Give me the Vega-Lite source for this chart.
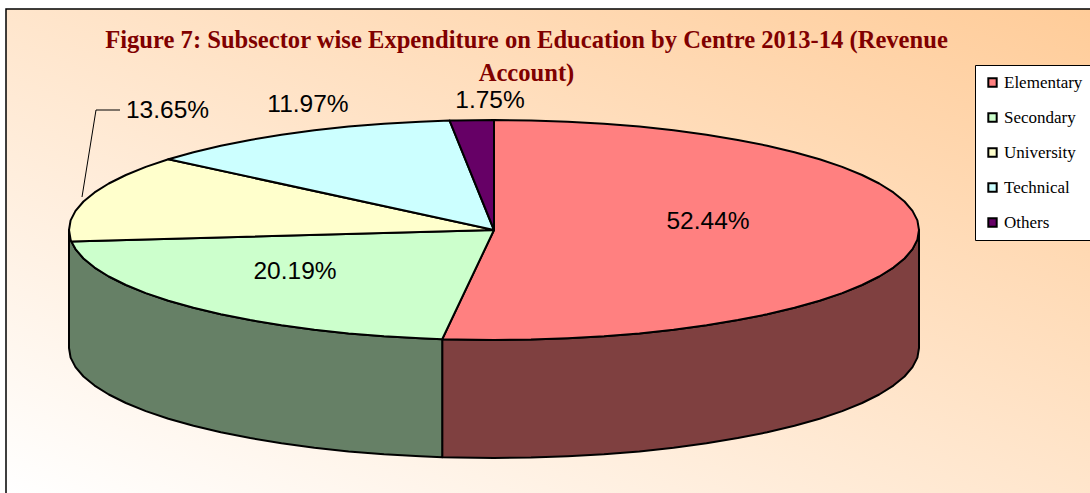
{"$schema":"https://vega.github.io/schema/vega-lite/v6.json","width":1085,"height":485,"autosize":"none","padding":{"left":6,"top":9,"right":0,"bottom":0},"background":"white","view":{"stroke":"#000000","strokeWidth":1.5,"fill":{"gradient":"linear","x1":0,"y1":1,"x2":1,"y2":0,"stops":[{"offset":0,"color":"#FFFFFF"},{"offset":1,"color":"#FFCC99"}]}},"title":{"text":["Figure 7: Subsector wise Expenditure on Education by Centre 2013-14 (Revenue","Account)"],"font":"Liberation Serif","fontSize":24.6,"fontWeight":"bold","color":"#800000","anchor":"middle","frame":"group","dx":-22,"baseline":"top","offset":-78,"lineHeight":33},"projection":{"type":"identity","reflectY":true,"scale":1,"translate":[488,221]},"datasets":{"shapes":[
{"type":"Feature","properties":{"part":"wall","subsector":"Elementary"},"geometry":{"type":"Polygon","coordinates":[[[425,0],[423.4,-9.6],[418.5,-19.1],[410.5,-28.5],[399.4,-37.6],[385.2,-46.5],[368.1,-55],[348.2,-63.1],[325.6,-70.7],[300.5,-77.8],[273.2,-84.3],[243.8,-90.1],[212.5,-95.3],[179.6,-99.7],[145.4,-103.4],[110,-106.3],[73.8,-108.3],[37,-109.6],[0,-110],[-37,-109.6],[-51.8,-109.2],[-51.8,-227.2],[-37,-227.6],[0,-228],[37,-227.6],[73.8,-226.3],[110,-224.3],[145.4,-221.4],[179.6,-217.7],[212.5,-213.3],[243.8,-208.1],[273.2,-202.3],[300.5,-195.8],[325.6,-188.7],[348.2,-181.1],[368.1,-173],[385.2,-164.5],[399.4,-155.6],[410.5,-146.5],[418.5,-137.1],[423.4,-127.6],[425,-118],[425,0]]]}},
{"type":"Feature","properties":{"part":"wall","subsector":"Secondary"},"geometry":{"type":"Polygon","coordinates":[[[-51.8,-109.2],[-73.8,-108.3],[-110,-106.3],[-145.4,-103.4],[-179.6,-99.7],[-212.5,-95.3],[-243.8,-90.1],[-273.2,-84.3],[-300.5,-77.8],[-325.6,-70.7],[-348.2,-63.1],[-368.1,-55],[-385.2,-46.5],[-399.4,-37.6],[-410.5,-28.5],[-418.5,-19.1],[-423.4,-9.6],[-425,0],[-425,-118],[-423.4,-127.6],[-418.5,-137.1],[-410.5,-146.5],[-399.4,-155.6],[-385.2,-164.5],[-368.1,-173],[-348.2,-181.1],[-325.6,-188.7],[-300.5,-195.8],[-273.2,-202.3],[-243.8,-208.1],[-212.5,-213.3],[-179.6,-217.7],[-145.4,-221.4],[-110,-224.3],[-73.8,-226.3],[-51.8,-227.2],[-51.8,-109.2]]]}},
{"type":"Feature","properties":{"part":"top","subsector":"Elementary"},"geometry":{"type":"Polygon","coordinates":[[[0,0],[0,110],[37,109.6],[73.8,108.3],[110,106.3],[145.4,103.4],[179.6,99.7],[212.5,95.3],[243.8,90.1],[273.2,84.3],[300.5,77.8],[325.6,70.7],[348.2,63.1],[368.1,55],[385.2,46.5],[399.4,37.6],[410.5,28.5],[418.5,19.1],[423.4,9.6],[425,0],[423.4,-9.6],[418.5,-19.1],[410.5,-28.5],[399.4,-37.6],[385.2,-46.5],[368.1,-55],[348.2,-63.1],[325.6,-70.7],[300.5,-77.8],[273.2,-84.3],[243.8,-90.1],[212.5,-95.3],[179.6,-99.7],[145.4,-103.4],[110,-106.3],[73.8,-108.3],[37,-109.6],[0,-110],[-37,-109.6],[-51.8,-109.2],[0,0]]]}},
{"type":"Feature","properties":{"part":"top","subsector":"Secondary"},"geometry":{"type":"Polygon","coordinates":[[[0,0],[-51.8,-109.2],[-73.8,-108.3],[-110,-106.3],[-145.4,-103.4],[-179.6,-99.7],[-212.5,-95.3],[-243.8,-90.1],[-273.2,-84.3],[-300.5,-77.8],[-325.6,-70.7],[-348.2,-63.1],[-368.1,-55],[-385.2,-46.5],[-399.4,-37.6],[-410.5,-28.5],[-418.5,-19.1],[-422.7,-11.5],[0,0]]]}},
{"type":"Feature","properties":{"part":"top","subsector":"University"},"geometry":{"type":"Polygon","coordinates":[[[0,0],[-422.7,-11.5],[-423.4,-9.6],[-425,0],[-423.4,9.6],[-418.5,19.1],[-410.5,28.5],[-399.4,37.6],[-385.2,46.5],[-368.1,55],[-348.2,63.1],[-325.6,70.7],[0,0]]]}},
{"type":"Feature","properties":{"part":"top","subsector":"Technical"},"geometry":{"type":"Polygon","coordinates":[[[0,0],[-325.6,70.7],[-300.5,77.8],[-273.2,84.3],[-243.8,90.1],[-212.5,95.3],[-179.6,99.7],[-145.4,103.4],[-110,106.3],[-73.8,108.3],[-44.4,109.4],[0,0]]]}},
{"type":"Feature","properties":{"part":"top","subsector":"Others"},"geometry":{"type":"Polygon","coordinates":[[[0,0],[-44.4,109.4],[-37,109.6],[0,110],[0,0]]]}},
{"type":"Feature","properties":{"part":"leader","subsector":"University"},"geometry":{"type":"LineString","coordinates":[[-374,120],[-398,120],[-412,33]]}}
],"labels":[
{"subsector":"Elementary","share":0.5244,"lon":214,"lat":8.5},
{"subsector":"Secondary","share":0.2019,"lon":-199,"lat":-42},
{"subsector":"University","share":0.1365,"lon":-326.5,"lat":119},
{"subsector":"Technical","share":0.1197,"lon":-186,"lat":125},
{"subsector":"Others","share":0.0175,"lon":-4,"lat":129}
]},"layer":[
{"data":{"name":"shapes"},"transform":[{"filter":"datum.properties.part === 'wall'"}],"mark":{"type":"geoshape","stroke":"#000000","strokeWidth":2,"strokeJoin":"round"},"encoding":{"color":{"field":"properties.subsector","type":"nominal","legend":null,"scale":{"domain":["Elementary","Secondary"],"range":["#7F4040","#668066"]}}}},
{"data":{"name":"shapes"},"transform":[{"filter":"datum.properties.part === 'top'"}],"mark":{"type":"geoshape","stroke":"#000000","strokeWidth":2,"strokeJoin":"round"},"encoding":{"color":{"field":"properties.subsector","type":"nominal","scale":{"domain":["Elementary","Secondary","University","Technical","Others"],"range":["#FF8080","#CCFFCC","#FFFFCC","#CCFFFF","#660066"]},"legend":{"title":null,"orient":"none","legendX":969,"legendY":56,"padding":9,"fillColor":"#FFFFFF","strokeColor":"#000000","symbolType":"square","symbolSize":70,"symbolStrokeColor":"#000000","symbolStrokeWidth":2,"symbolOpacity":1,"labelFont":"Liberation Serif","labelFontSize":17,"labelColor":"#000000","rowPadding":17,"labelOffset":3,"labelLimit":200}}}},
{"data":{"name":"shapes"},"transform":[{"filter":"datum.properties.part === 'leader'"}],"mark":{"type":"geoshape","filled":false,"stroke":"#000000","strokeWidth":1}},
{"data":{"name":"labels"},"mark":{"type":"text","font":"Liberation Sans","fontSize":24.5,"color":"#000000","align":"center","baseline":"middle"},"encoding":{"longitude":{"field":"lon","type":"quantitative"},"latitude":{"field":"lat","type":"quantitative"},"text":{"field":"share","type":"quantitative","format":".2%"}}}
],"resolve":{"scale":{"color":"independent"}}}
